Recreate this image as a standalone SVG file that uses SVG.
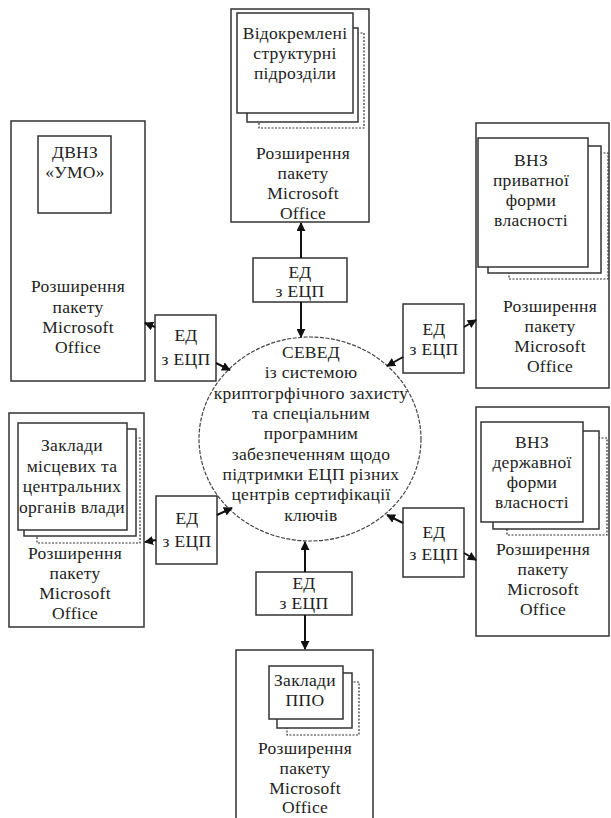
<svg xmlns="http://www.w3.org/2000/svg" width="611" height="818" viewBox="0 0 611 818" font-family="'Liberation Serif', 'Times New Roman', 'DejaVu Serif', serif">
<defs>
<style>
text{font-family:'Liberation Serif','Times New Roman','DejaVu Serif',serif;font-size:17.5px;letter-spacing:0.3px;fill:#222;text-anchor:middle}
.box{fill:#fff;stroke:#333;stroke-width:1.5}
.dash{fill:#fff;stroke:#333;stroke-width:1.2;stroke-dasharray:2,1.5}
.conn{stroke:#111;stroke-width:2;fill:none;marker-end:url(#arr)}
.circ{fill:#fff;stroke:#444;stroke-width:1.2;stroke-dasharray:4,1.5}
</style>
<marker id="arr" viewBox="0 0 10 10" refX="9" refY="5" markerWidth="4.5" markerHeight="4.5" orient="auto" markerUnits="strokeWidth">
<path d="M0,0 L10,5 L0,10 z" fill="#111"/>
</marker>
</defs>
<rect width="611" height="818" fill="#fff"/>

<g id="node-top">
<rect class="box" x="231" y="9" width="138" height="213"/>
<rect class="dash" x="259" y="33" width="105" height="95"/>
<rect class="box" x="247" y="28" width="111" height="94"/>
<rect class="box" x="237" y="13" width="116" height="100"/>
<text x="295" y="39">Відокремлені</text>
<text x="295" y="59">структурні</text>
<text x="295" y="79">підрозділи</text>
<text x="303" y="159">Розширення</text>
<text x="303" y="179">пакету</text>
<text x="303" y="199">Microsoft</text>
<text x="303" y="219">Office</text>
</g>

<g id="node-left-top">
<rect class="box" x="11" y="121" width="134" height="260"/>
<rect class="box" x="38" y="136" width="73" height="77"/>
<text x="75" y="158">ДВНЗ</text>
<text x="75" y="178">«УМО»</text>
<text x="78" y="292">Розширення</text>
<text x="78" y="313">пакету</text>
<text x="78" y="333">Microsoft</text>
<text x="78" y="353">Office</text>
</g>

<g id="node-right-top">
<rect class="box" x="476" y="123" width="133" height="265"/>
<rect class="dash" x="509" y="153" width="99" height="126"/>
<rect class="box" x="488" y="146" width="113" height="127"/>
<rect class="box" x="478" y="138" width="110" height="129"/>
<text x="531" y="166">ВНЗ</text>
<text x="531" y="186">приватної</text>
<text x="531" y="206">форми</text>
<text x="531" y="226">власності</text>
<text x="550" y="312">Розширення</text>
<text x="550" y="332">пакету</text>
<text x="550" y="352">Microsoft</text>
<text x="550" y="372">Office</text>
</g>

<g id="node-left-bottom">
<rect class="box" x="9" y="413" width="135" height="214"/>
<rect class="dash" x="37" y="438" width="103" height="105"/>
<rect class="box" x="24" y="429" width="112" height="107"/>
<rect class="box" x="18" y="423" width="109" height="107"/>
<text x="72" y="451">Заклади</text>
<text x="72" y="472">місцевих та</text>
<text x="72" y="492">центральних</text>
<text x="72" y="513">органів влади</text>
<text x="75" y="559">Розширення</text>
<text x="75" y="579">пакету</text>
<text x="75" y="599">Microsoft</text>
<text x="75" y="619">Office</text>
</g>

<g id="node-right-bottom">
<rect class="box" x="476" y="407" width="133" height="229"/>
<rect class="dash" x="507" y="438" width="100" height="97"/>
<rect class="box" x="493" y="431" width="106" height="98"/>
<rect class="box" x="481" y="422" width="102" height="100"/>
<text x="532" y="448">ВНЗ</text>
<text x="532" y="468">державної</text>
<text x="532" y="488">форми</text>
<text x="532" y="508">власності</text>
<text x="543" y="555">Розширення</text>
<text x="543" y="575">пакету</text>
<text x="543" y="595">Microsoft</text>
<text x="543" y="615">Office</text>
</g>

<g id="node-bottom">
<rect class="box" x="236" y="650" width="137" height="180"/>
<rect class="dash" x="287" y="682" width="72" height="53"/>
<rect class="box" x="277" y="673" width="75" height="55"/>
<rect class="box" x="269" y="666" width="74" height="53"/>
<text x="305" y="686">Заклади</text>
<text x="305" y="706">ППО</text>
<text x="305" y="754">Розширення</text>
<text x="305" y="774">пакету</text>
<text x="305" y="794">Microsoft</text>
<text x="305" y="813">Office</text>
</g>

<g id="node-center">
<ellipse class="circ" cx="310" cy="439" rx="111" ry="102"/>
<text x="311" y="358">СЕВЕД</text>
<text x="311" y="378">із системою</text>
<text x="311" y="399">криптогрфічного захисту</text>
<text x="311" y="419">та спеціальним</text>
<text x="311" y="439">програмним</text>
<text x="311" y="460">забезпеченням щодо</text>
<text x="311" y="480">підтримки ЕЦП різних</text>
<text x="311" y="500">центрів сертифікації</text>
<text x="311" y="521">ключів</text>
</g>

<g id="ed-top">
<rect class="box" x="253" y="258" width="94" height="44"/>
<text x="300" y="278">ЕД</text>
<text x="300" y="297">з ЕЦП</text>
</g>
<g id="ed-left-top">
<rect class="box" x="155" y="315" width="61" height="66"/>
<text x="186" y="341">ЕД</text>
<text x="186" y="365">з ЕЦП</text>
</g>
<g id="ed-right-top">
<rect class="box" x="403" y="304" width="61" height="69"/>
<text x="434" y="335">ЕД</text>
<text x="434" y="355">з ЕЦП</text>
</g>
<g id="ed-left-bottom">
<rect class="box" x="156" y="496" width="61" height="68"/>
<text x="187" y="524">ЕД</text>
<text x="187" y="547">з ЕЦП</text>
</g>
<g id="ed-right-bottom">
<rect class="box" x="403" y="508" width="61" height="69"/>
<text x="434" y="538">ЕД</text>
<text x="434" y="560">з ЕЦП</text>
</g>
<g id="ed-bottom">
<rect class="box" x="256" y="572" width="96" height="43"/>
<text x="304" y="589">ЕД</text>
<text x="304" y="609">з ЕЦП</text>
</g>

<g id="connectors">
<line class="conn" x1="301" y1="258" x2="301" y2="223"/>
<line class="conn" x1="301" y1="302" x2="301" y2="337"/>
<line class="conn" x1="155" y1="327" x2="145" y2="323"/>
<line class="conn" x1="216" y1="363" x2="230" y2="370"/>
<line class="conn" x1="464" y1="327" x2="476" y2="320"/>
<line class="conn" x1="403" y1="357" x2="387" y2="366"/>
<line class="conn" x1="217" y1="515" x2="232" y2="508"/>
<line class="conn" x1="156" y1="540" x2="145" y2="542"/>
<line class="conn" x1="403" y1="523" x2="387" y2="515"/>
<line class="conn" x1="464" y1="553" x2="476" y2="560"/>
<line class="conn" x1="305" y1="572" x2="305" y2="542"/>
<line class="conn" x1="305" y1="615" x2="305" y2="649"/>
</g>
</svg>
